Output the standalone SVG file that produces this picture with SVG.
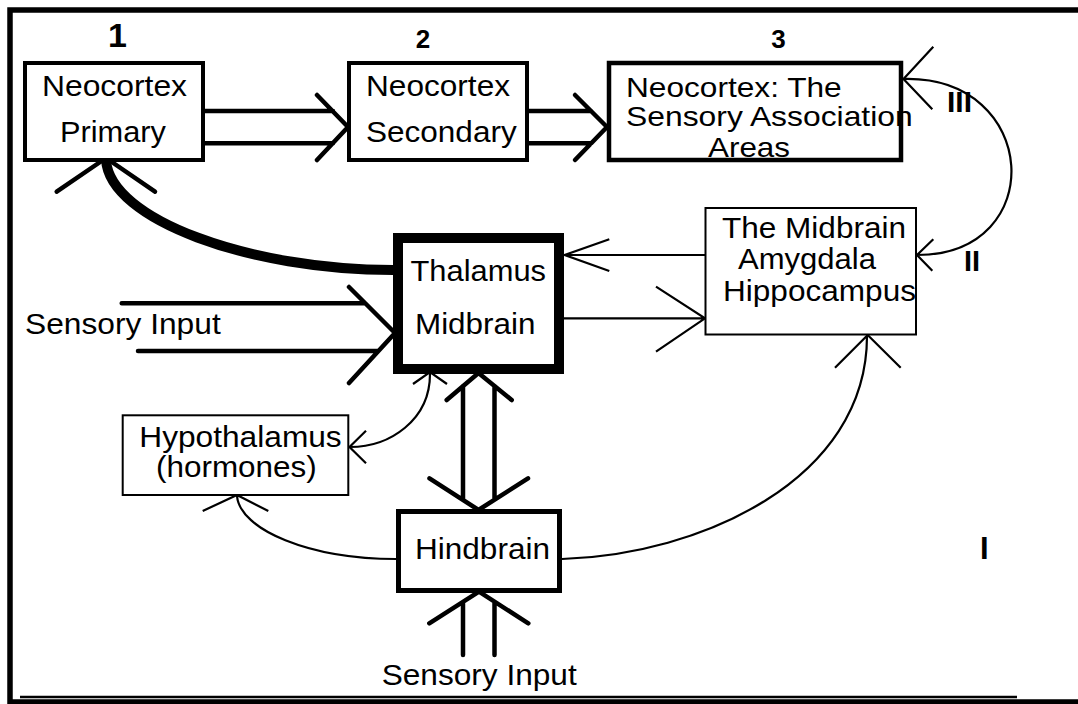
<svg xmlns="http://www.w3.org/2000/svg" width="1078" height="704" viewBox="0 0 1078 704">
<style>
.bx{fill:#fff;stroke:#000}
.t{font-family:"Liberation Sans",Arial,sans-serif;font-size:30px;fill:#000}
.s{font-size:28px}
.b{font-family:"Liberation Sans",Arial,sans-serif;font-weight:bold;fill:#000}
.k{fill:none;stroke:#000;stroke-width:4.5;stroke-linecap:round;stroke-linejoin:round}
.n{fill:none;stroke:#000;stroke-width:2.2}
</style>
<rect width="1078" height="704" fill="#fff"/>
<g id="frame">
<path d="M1078,10 H10 V702 H1078" fill="none" stroke="#000" stroke-width="5.5"/>
<line x1="20" y1="697" x2="1017" y2="697" stroke="#000" stroke-width="2.4"/>
</g>
<g id="connectors">
<path class="k" d="M205,111 H333 M205,143.3 H333 M317,95 L348,127 L317,160"/>
<path class="k" d="M529,111 H591 M529,143.3 H591 M575,95 L607,127 L575,160"/>
<path class="k" d="M121.7,303.3 H365 M138,351 H378 M349,287 L395,333 L349,383"/>
<path class="k" d="M463,386 V499 M494.5,386 V499 M446.7,400 L478.5,373 L511.7,400 M429.5,478.3 L478.5,510 L528,478.3"/>
<path class="k" d="M463,603 V655 M494.5,603 V655 M429.3,623.3 L479,591.7 L528.3,623.3"/>
<path d="M393,270 C250,270 110,220 106,160" fill="none" stroke="#000" stroke-width="10"/>
<path class="k" d="M56.7,191.7 L106,158 L155,191.7"/>
<path class="n" d="M564,255 H705 M609.3,239.3 L564.6,255 L609.3,271"/>
<path class="n" d="M564,318.3 H705 M656,286.7 L705,318.3 L656,351.7"/>
<path class="n" d="M430,374 C430,420 390,447 350,447 M366,430.7 L349.5,447 L366,463.3 M413,384 L430,372 L447,384"/>
<path class="n" d="M396,559 C310,559 240,530 237,496 M202.7,511 L237,495 L268.3,511"/>
<path class="n" d="M562,559 C700,555 867,480 867,336 M835,367.7 L867.7,335 L900.7,367.7"/>
<path class="n" d="M903,79 C1040,75 1050,255 917,255 M933.3,46.7 L903.5,79 L932.3,109.3 M933.3,239.3 L917,255 L932.3,270.7"/>
</g>
<g id="n1">
<rect class="bx" x="25" y="63" width="178" height="97" stroke-width="4"/>
<text class="t" x="42" y="96" textLength="145" lengthAdjust="spacingAndGlyphs">Neocortex</text>
<text class="t" x="60" y="141.7" textLength="106" lengthAdjust="spacingAndGlyphs">Primary</text>
</g>
<g id="n2">
<rect class="bx" x="349" y="63" width="178" height="97" stroke-width="4"/>
<text class="t" x="366" y="96" textLength="144" lengthAdjust="spacingAndGlyphs">Neocortex</text>
<text class="t" x="366" y="141.7" textLength="150.7" lengthAdjust="spacingAndGlyphs">Secondary</text>
</g>
<g id="n3">
<rect class="bx" x="609" y="63" width="292" height="97" stroke-width="4.5"/>
<text class="t s" x="626" y="96.7" textLength="215.7" lengthAdjust="spacingAndGlyphs">Neocortex: The</text>
<text class="t s" x="626" y="125.7" textLength="286.7" lengthAdjust="spacingAndGlyphs">Sensory Association</text>
<text class="t s" x="708" y="156.7" textLength="82" lengthAdjust="spacingAndGlyphs">Areas</text>
</g>
<g id="thalamus">
<rect class="bx" x="398" y="238" width="161" height="131" stroke-width="10"/>
<text class="t" x="410.5" y="280.5" textLength="135.5" lengthAdjust="spacingAndGlyphs">Thalamus</text>
<text class="t" x="415" y="334.3" textLength="120.4" lengthAdjust="spacingAndGlyphs">Midbrain</text>
</g>
<g id="amygdala">
<rect class="bx" x="705.5" y="208" width="210.5" height="126.5" stroke-width="2"/>
<text class="t" x="722" y="237.5" textLength="184" lengthAdjust="spacingAndGlyphs">The Midbrain</text>
<text class="t" x="738" y="269" textLength="138" lengthAdjust="spacingAndGlyphs">Amygdala</text>
<text class="t" x="723" y="300.5" textLength="193" lengthAdjust="spacingAndGlyphs">Hippocampus</text>
</g>
<g id="hypothalamus">
<rect class="bx" x="122.7" y="415.3" width="225.6" height="79.7" stroke-width="2"/>
<text class="t" x="139.3" y="446.7" textLength="202.4" lengthAdjust="spacingAndGlyphs">Hypothalamus</text>
<text class="t" x="156" y="477" textLength="160.7" lengthAdjust="spacingAndGlyphs">(hormones)</text>
</g>
<g id="hindbrain">
<rect class="bx" x="398.5" y="511.5" width="161" height="79" stroke-width="5"/>
<text class="t" x="415" y="559" textLength="135" lengthAdjust="spacingAndGlyphs">Hindbrain</text>
</g>
<g id="labels">
<text class="t" x="25" y="334.3" textLength="195.7" lengthAdjust="spacingAndGlyphs">Sensory Input</text>
<text class="t" x="381.7" y="685" textLength="195" lengthAdjust="spacingAndGlyphs">Sensory Input</text>
<text class="b" x="117.5" y="47" font-size="34" text-anchor="middle">1</text>
<text class="b" x="423" y="48" font-size="26" text-anchor="middle">2</text>
<text class="b" x="778.5" y="48" font-size="26" text-anchor="middle">3</text>
<text class="b" x="947" y="111.7" font-size="30">III</text>
<text class="b" x="964" y="270.7" font-size="29">II</text>
<text class="b" x="980" y="559" font-size="31">I</text>
</g>
</svg>
